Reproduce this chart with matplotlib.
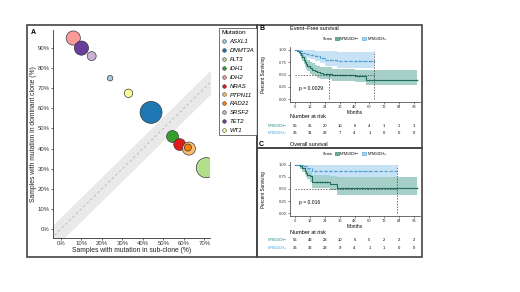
import matplotlib
matplotlib.use("Agg")
import matplotlib.pyplot as plt
import numpy as np
from matplotlib.patches import Rectangle, Patch
from matplotlib.lines import Line2D
import matplotlib.transforms as mtrans

plt.rcParams['font.family'] = ['Liberation Sans', 'DejaVu Sans']

# ---------------- Data: panel A ----------------
genes = ["ASXL1", "DNMT3A", "FLT3", "IDH1", "IDH2", "NRAS", "PTPN11", "RAD21", "SRSF2", "TET2", "WT1"]
subclone = [24, 44, 71, 54.5, 6, 58, 62.5, 62, 15, 10, 33]
dominant = [75, 58, 30.5, 46, 95, 42, 40, 40.5, 86, 90, 67.5]
n_samples = [3, 48, 40, 14, 20, 14, 17, 5, 8, 20, 7]
gene_colors = ["#A6CEE3", "#1F78B4", "#B2DF8A", "#33A02C", "#FB9A99", "#E31A1C",
               "#FDBF6F", "#FF7F00", "#CAB2D6", "#6A3D9A", "#FFFF99"]
pct_ticks = [0, 10, 20, 30, 40, 50, 60, 70, 80, 90]

# ---------------- Data: panel B (EFS) ----------------
months_ticks = [0, 12, 24, 36, 48, 60, 72, 84, 96]
efs_neg_t = [0, 2, 3, 4, 5, 6, 7, 8, 9, 10, 12, 14, 16, 18, 20, 23, 30, 48, 57, 98]
efs_neg_s = [1.0, 0.98, 0.96, 0.93, 0.89, 0.85, 0.80, 0.76, 0.72, 0.68, 0.63, 0.60, 0.57, 0.55, 0.53, 0.52, 0.49, 0.46, 0.39, 0.39]
efs_neg_lo = [1.0, 0.95, 0.92, 0.87, 0.82, 0.77, 0.71, 0.66, 0.62, 0.57, 0.52, 0.49, 0.46, 0.43, 0.41, 0.40, 0.37, 0.34, 0.29, 0.29]
efs_neg_hi = [1.0, 1.0, 1.0, 0.99, 0.97, 0.94, 0.90, 0.87, 0.84, 0.80, 0.76, 0.73, 0.70, 0.68, 0.66, 0.65, 0.62, 0.60, 0.59, 0.59]
efs_neg_cens = [26, 28, 32, 34, 36, 38, 40, 44, 52, 60, 98]
efs_pos_t = [0, 3, 6, 9, 12, 16, 20, 24, 34, 64]
efs_pos_s = [1.0, 0.97, 0.94, 0.92, 0.90, 0.87, 0.84, 0.80, 0.78, 0.78]
efs_pos_lo = [1.0, 0.92, 0.87, 0.84, 0.81, 0.77, 0.73, 0.68, 0.64, 0.64]
efs_pos_hi = [1.0, 1.0, 1.0, 1.0, 0.99, 0.98, 0.97, 0.97, 0.96, 0.96]
efs_pos_cens = [10, 14, 18, 22, 28, 32, 36, 40, 44, 48, 52, 56, 60, 64]
efs_risk_neg = [56, 35, 20, 10, 6, 4, 1, 1, 1]
efs_risk_pos = [36, 31, 22, 7, 4, 1, 0, 0, 0]

# ---------------- Data: panel C (OS) ----------------
os_neg_t = [0, 4, 6, 8, 9, 10, 12, 14, 28, 34, 98]
os_neg_s = [1.0, 0.97, 0.93, 0.88, 0.84, 0.80, 0.76, 0.65, 0.60, 0.53, 0.53]
os_neg_lo = [1.0, 0.92, 0.86, 0.80, 0.75, 0.70, 0.65, 0.53, 0.48, 0.38, 0.38]
os_neg_hi = [1.0, 1.0, 1.0, 0.97, 0.94, 0.91, 0.88, 0.79, 0.76, 0.75, 0.75]
os_neg_cens = [18, 20, 22, 24, 26, 38, 42, 46, 50, 54, 58, 98]
os_pos_t = [0, 7, 10, 14, 82]
os_pos_s = [1.0, 0.97, 0.93, 0.88, 0.88]
os_pos_lo = [1.0, 0.90, 0.83, 0.74, 0.74]
os_pos_hi = [1.0, 1.0, 1.0, 0.99, 0.99]
os_pos_cens = [16, 20, 24, 28, 32, 36, 40, 44, 48, 52, 56, 60]
os_risk_neg = [56, 43, 23, 10, 6, 5, 2, 2, 2]
os_risk_pos = [36, 32, 23, 9, 4, 1, 1, 0, 0]

strata = ["NPM1/IDH\u2212", "NPM1/IDH+"]
c_neg = "#1F6F5F"
c_neg_band = "#6AAFA2"
c_pos = "#4F9FD6"
c_pos_band = "#A3D0EE"
c_neg_lab = "#2B8C86"
c_pos_lab = "#49A6DB"

W, H = 520, 292
fig = plt.figure(figsize=(W / 100, H / 100), dpi=100)


def rect(x0, y0, x1, y1):
    return [x0 / W, 1 - y1 / H, (x1 - x0) / W, (y1 - y0) / H]


def fx(px):
    return px / W


def fy(py):
    return 1 - py / H


# panel borders
for (x0, y0, x1, y1) in [(27, 25, 257, 257), (257, 25, 422, 148), (257, 148, 422, 257)]:
    fig.patches.append(Rectangle((fx(x0), fy(y1)), (x1 - x0) / W, (y1 - y0) / H,
                                 transform=fig.transFigure, fill=False,
                                 edgecolor="#444444", linewidth=1.2))

# ---------------- Panel A ----------------
axA = fig.add_axes(rect(53, 30, 210, 238))
xx = np.array([-10, 100])
axA.fill_between(xx, xx - 6, xx + 6, color="#e9e9e9", zorder=0, linewidth=0)
axA.plot(xx, xx, color="#b5b5b5", linestyle=(0, (3, 3)), linewidth=0.6, zorder=1)
axA.scatter(subclone, dominant, s=np.array(n_samples) * 5.2, c=gene_colors,
            edgecolors="#3a3a3a", linewidths=0.5, zorder=3)
axA.set_xlim(-3.9, 72.8)
axA.set_ylim(-4.5, 99)
axA.set_xticks(pct_ticks[:8])
axA.set_xticklabels([f"{v}%" for v in pct_ticks[:8]])
axA.set_yticks(pct_ticks)
axA.set_yticklabels([f"{v}%" for v in pct_ticks])
axA.tick_params(labelsize=4.3, length=1.5, width=0.5, pad=1, colors="#333333")
for s in ["top", "right"]:
    axA.spines[s].set_visible(False)
for s in ["left", "bottom"]:
    axA.spines[s].set_color("#333333")
    axA.spines[s].set_linewidth(0.6)
axA.set_xlabel("Samples with mutation in sub-clone (%)", fontsize=4.9, labelpad=0.5, color="#222222")
axA.set_ylabel("Samples with mutation in dominant clone (%)", fontsize=4.9, labelpad=0.5, color="#222222")
fig.text(fx(31), fy(32), "A", fontsize=5, fontweight="bold", va="center")

handles = [Line2D([], [], marker="o", linestyle="none", markersize=2.6,
                  markerfacecolor=c, markeredgecolor="#3a3a3a", markeredgewidth=0.4)
           for c in gene_colors]
leg = fig.legend(handles, genes, loc="upper left", bbox_to_anchor=(fx(219), fy(28)),
                 title="Mutation", fontsize=4.3, title_fontsize=4.6, frameon=True,
                 fancybox=False, edgecolor="#333333", borderpad=0.4, labelspacing=0.62,
                 handlelength=1.0, handletextpad=0.4, borderaxespad=0)
leg.get_frame().set_linewidth(0.6)
for t in leg.get_texts():
    t.set_fontstyle("italic")
leg._legend_box.align = "left"


# ---------------- KM panel helper ----------------
def km_panel(rect_px, label, title, neg, pos, cens, risk, pval, med, label_y, title_y,
             legend_y, risk_title_y, row_y):
    ax = fig.add_axes(rect(*rect_px))
    for (t, s, lo, hi), band in [(neg, c_neg_band), (pos, c_pos_band)]:
        ax.fill_between(t, lo, hi, step="post", color=band, alpha=0.6, linewidth=0, zorder=1)
    for (t, s, lo, hi), col, cc, ls in [(neg, c_neg, cens[0], "-"), (pos, c_pos, cens[1], (0, (3, 1.5)))]:
        ax.step(t, s, where="post", color=col, linewidth=0.8, linestyle=ls, zorder=3)
        tt = np.array(cc)
        idx = np.searchsorted(t, tt, side="right") - 1
        yy = np.array(s)[np.clip(idx, 0, len(s) - 1)]
        ax.plot(tt, yy, linestyle="none", marker="+", markersize=2, markeredgewidth=0.4,
                color=col, zorder=4)
    mh, mv1, mv2, mv2top = med
    dash = dict(color="#333333", linestyle=(0, (2, 2)), linewidth=0.5, zorder=5)
    ax.plot([0, mh], [0.5, 0.5], **dash)
    if mv1 is not None:
        ax.plot([mv1, mv1], [0, 0.5], **dash)
    ax.plot([mv2, mv2], [0, mv2top], **dash)
    ax.set_xlim(-4, 100.8)
    ax.set_ylim(-0.06, 1.06)
    ax.set_xticks(months_ticks)
    ax.set_yticks([0, 0.25, 0.5, 0.75, 1.0])
    ax.set_yticklabels(["0.00", "0.25", "0.50", "0.75", "1.00"])
    ax.tick_params(labelsize=3, length=1.2, width=0.4, pad=1, colors="#333333")
    for s in ["top", "right"]:
        ax.spines[s].set_visible(False)
    for s in ["left", "bottom"]:
        ax.spines[s].set_linewidth(0.5)
        ax.spines[s].set_color("#333333")
    ax.set_xlabel("Months", fontsize=3.5, labelpad=0.5)
    fig.text(fx(263), fy(label_y), "Percent Surviving", rotation=90, fontsize=3.3,
             ha="center", va="center")
    ax.text(3, 0.22, pval, fontsize=3.6, va="center")
    fig.text(fx(259), fy(title_y), label, fontsize=5, fontweight="bold", va="center")
    fig.text(fx(290), fy(title_y), title, fontsize=4, va="center")
    lh = [Line2D([], [], linestyle="none"),
          Patch(facecolor=c_neg_band, edgecolor=c_neg, linewidth=0.4),
          Patch(facecolor=c_pos_band, edgecolor=c_pos, linewidth=0.4)]
    fig.legend(lh, ["Strata"] + strata, loc="center", bbox_to_anchor=(fx(352), fy(legend_y)),
               ncol=3, fontsize=2.6, frameon=False, handlelength=1.0, handleheight=0.8,
               handletextpad=0.4, columnspacing=0.8, borderaxespad=0, borderpad=0)
    fig.text(fx(290), fy(risk_title_y), "Number at risk", fontsize=4, va="center")
    tr = mtrans.blended_transform_factory(ax.transData, fig.transFigure)
    for vals, yp, lc, nm in [(risk[0], row_y[0], c_neg_lab, strata[0]),
                             (risk[1], row_y[1], c_pos_lab, strata[1])]:
        for m, v in zip(months_ticks, vals):
            ax.text(m, fy(yp), str(v), transform=tr, fontsize=3, ha="center", va="center",
                    clip_on=False)
        fig.text(fx(287), fy(yp), nm, fontsize=2.6, color=lc, ha="right", va="center")
    return ax


km_panel((290, 47, 420, 102), "B", "Event\u2013Free survival",
         (efs_neg_t, efs_neg_s, efs_neg_lo, efs_neg_hi),
         (efs_pos_t, efs_pos_s, efs_pos_lo, efs_pos_hi),
         (efs_neg_cens, efs_pos_cens), (efs_risk_neg, efs_risk_pos),
         "p = 0.0029", (64, 27.5, 64, 0.97), 75, 29, 39, 117, (126, 133))

km_panel((290, 162, 420, 216), "C", "Overall survival",
         (os_neg_t, os_neg_s, os_neg_lo, os_neg_hi),
         (os_pos_t, os_pos_s, os_pos_lo, os_pos_hi),
         (os_neg_cens, os_pos_cens), (os_risk_neg, os_risk_pos),
         "p = 0.016", (82, None, 82, 0.99), 190, 145, 154, 232, (240, 248))

fig.savefig("out.png", dpi=100, facecolor="white")
